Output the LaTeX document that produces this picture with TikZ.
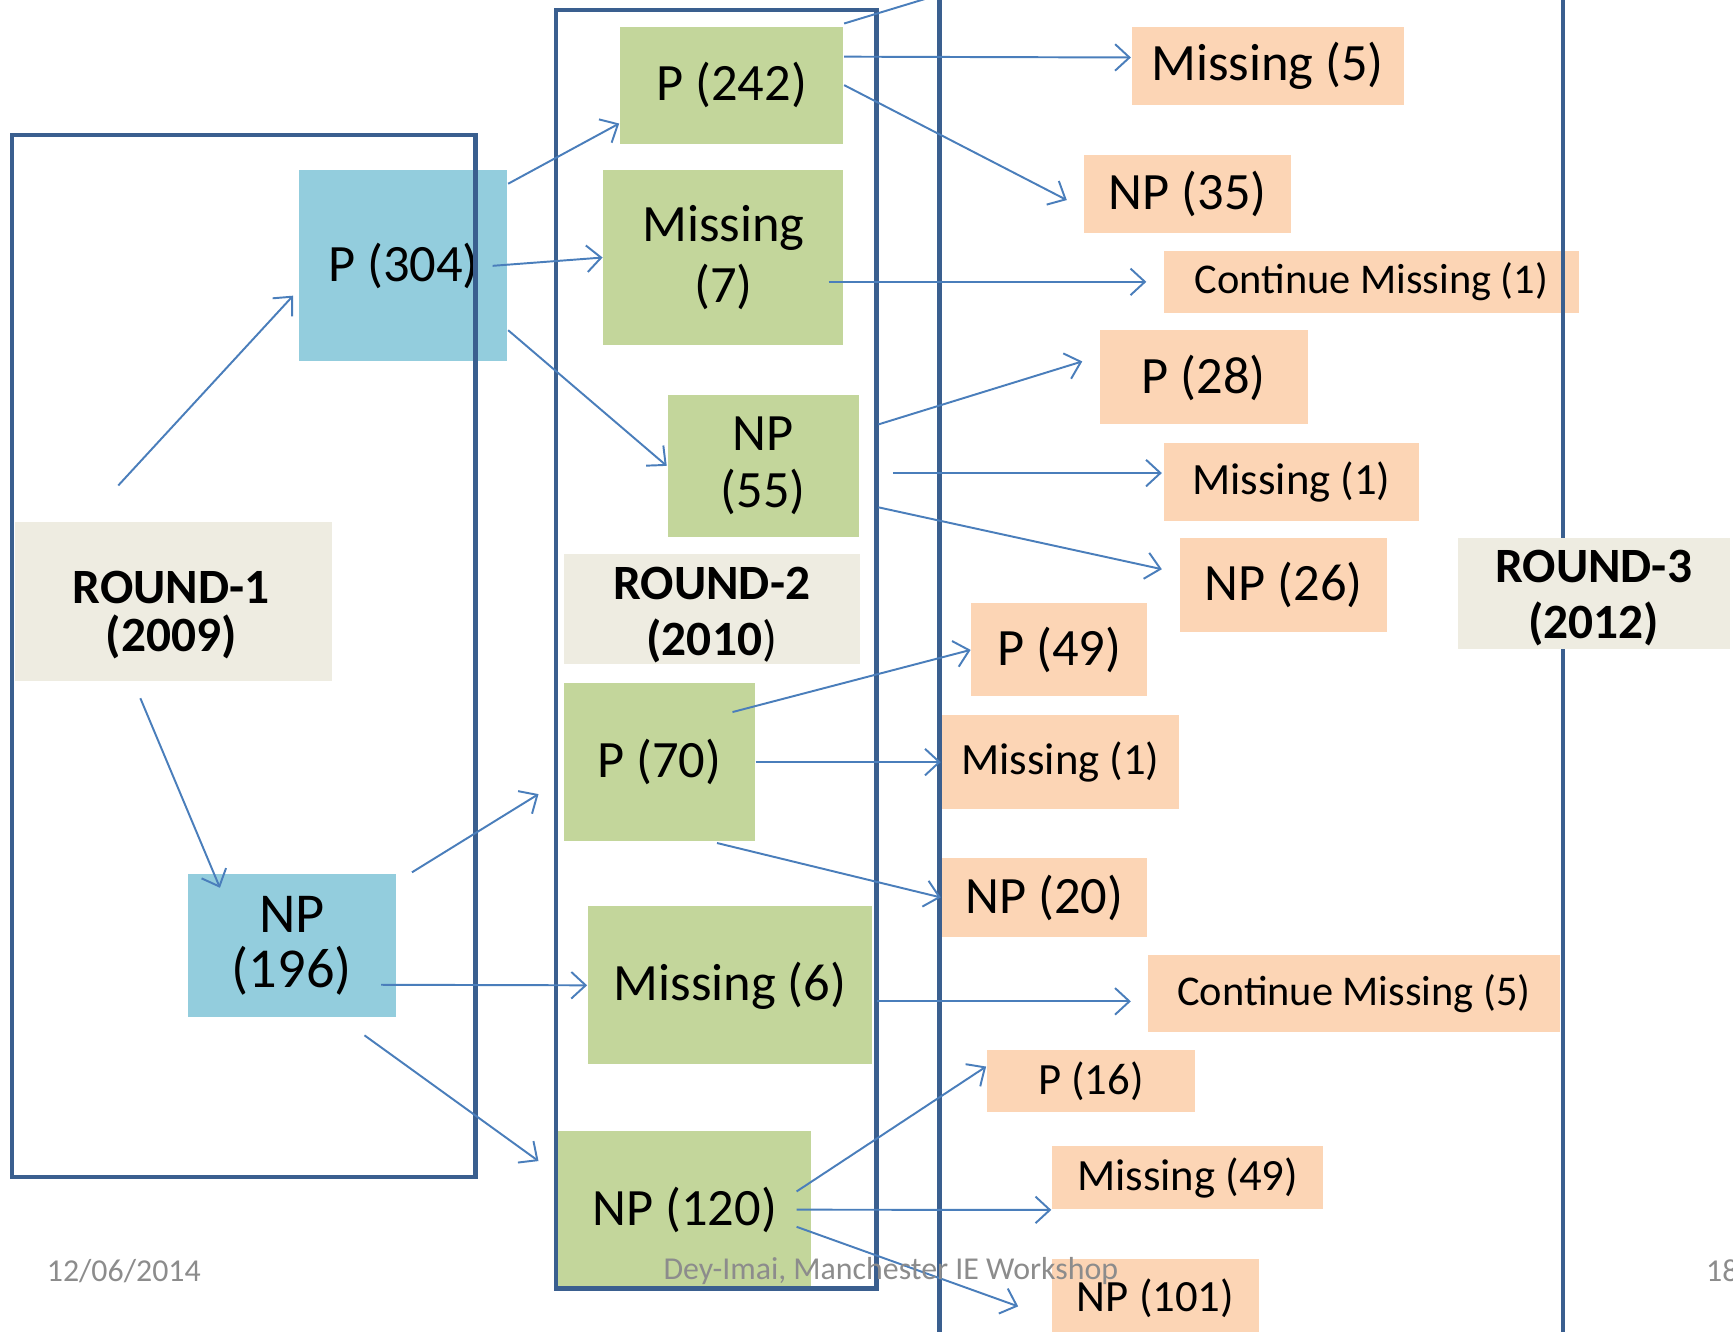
\documentclass[tikz,border=0pt]{standalone}
\usepackage{fontspec}
\setmainfont{Carlito}
\usetikzlibrary{arrows.meta,calc}
\definecolor{frameblue}{HTML}{3A5F8F}
\definecolor{flowblue}{HTML}{4A7EBB}
\definecolor{bluefill}{HTML}{93CDDD}
\definecolor{greenfill}{HTML}{C3D69B}
\definecolor{orangefill}{HTML}{FCD5B5}
\definecolor{beigefill}{HTML}{EEECE1}
\definecolor{footgray}{HTML}{8C8C8C}

\begin{document}
\begin{tikzpicture}[x=0.01cm, y=-0.01cm,
  base/.style={inner sep=0pt, align=center, text=black},
  big/.style={font=\fontsize{13.5}{15.5}\selectfont},
  mid/.style={font=\fontsize{11.5}{13}\selectfont},
  small/.style={font=\fontsize{10.9}{12}\selectfont},
  rone/.style={base, fill=bluefill},
  rtwo/.style={base, big, fill=greenfill},
  rthree/.style={base, fill=orangefill},
  roundlbl/.style={base, fill=beigefill},
  roundtxt/.style={inner sep=0pt, align=center, font=\bfseries\fontsize{12.7}{14.5}\selectfont},
  frame/.style={draw=frameblue, line width=1.2pt},
  flow/.style={draw=flowblue, line width=0.5pt, -{Straight Barb[length=1.3mm,width=2.4mm]}},
  foot/.style={inner sep=0pt, text=footgray, font=\fontsize{8.2}{9}\selectfont}]
\clip (0,0) rectangle (1568,1205);

% Round labels (round 3 comes after its frame line)
\node[roundlbl, minimum width=2.86cm, minimum height=1.44cm,
      label={[roundtxt, font=\bfseries\fontsize{12.7}{12.5}\selectfont, yshift=-3.6pt, xshift=-0.6pt]center:{ROUND-1\\(2009)}}] (r1) at (157,544) {};
\node[roundlbl, minimum width=2.68cm, minimum height=1.00cm,
      label={[roundtxt, yshift=-1.5pt]center:{ROUND-2\\(2010{\mdseries)}}}] (r2) at (644,551) {};

% Round 1 outcomes
\node[rone, big, minimum width=1.88cm, minimum height=1.73cm] (p304) at (365,240.5) {P (304)};
\node[rone, minimum width=1.88cm, minimum height=1.29cm,
      font=\fontsize{14.5}{14.2}\selectfont] (np196) at (264,855.5) {NP\\(196)};

% Round 2 outcomes
\node[rtwo, minimum width=2.02cm, minimum height=1.06cm] (p242) at (662,77) {P (242)};
\node[rtwo, minimum width=2.17cm, minimum height=1.58cm,
      font=\fontsize{13.5}{15.9}\selectfont] (miss7) at (654.5,233) {Missing\\(7)};
\node[rtwo, minimum width=1.73cm, minimum height=1.29cm,
      font=\fontsize{13.5}{14.8}\selectfont] (np55) at (690.5,421.5) {NP\\(55)};
\node[rtwo, minimum width=1.73cm, minimum height=1.43cm] (p70) at (596.5,689.5) {P (70)};
\node[rtwo, minimum width=2.57cm, minimum height=1.43cm] (miss6) at (660.5,891.5) {Missing (6)};
\node[rtwo, minimum width=2.29cm, minimum height=1.43cm] (np120) at (619.5,1094.5) {NP (120)};

% Round 3 outcomes
\node[rthree, big, minimum width=2.46cm, minimum height=0.71cm] (miss5) at (1147,59.5) {Missing (5)};
\node[rthree, big, minimum width=1.87cm, minimum height=0.71cm] (np35) at (1074.5,175.5) {NP (35)};
\node[rthree, small, minimum width=3.76cm, minimum height=0.56cm] (cont1) at (1241,255) {Continue Missing (1)};
\node[rthree, big, minimum width=1.88cm, minimum height=0.85cm] (p28) at (1089,341.5) {P (28)};
\node[rthree, mid, minimum width=2.31cm, minimum height=0.70cm] (miss1a) at (1168.5,436) {Missing (1)};
\node[rthree, big, minimum width=1.87cm, minimum height=0.85cm] (np26) at (1161.5,529.5) {NP (26)};
\node[rthree, big, minimum width=1.59cm, minimum height=0.84cm] (p49) at (958.5,588) {P (49)};
\node[rthree, mid, minimum width=2.15cm, minimum height=0.85cm] (miss1b) at (959.5,689.5) {Missing (1)};
\node[rthree, big, minimum width=1.86cm, minimum height=0.72cm] (np20) at (945,812) {NP (20)};
\node[rthree, small, minimum width=3.72cm, minimum height=0.70cm] (cont5) at (1225,899) {Continue Missing (5)};
\node[rthree, mid, minimum width=1.88cm, minimum height=0.56cm] (p16) at (987,978) {P (16)};
\node[rthree, mid, minimum width=2.45cm, minimum height=0.57cm] (miss49) at (1074.5,1065.5) {Missing (49)};
\node[rthree, mid, minimum width=1.87cm, minimum height=0.71cm] (np101) at (1045.5,1174.5) {NP (101)};

% Round frames
\draw[frame] (11,122) rectangle (430,1065);
\draw[frame] (503,9) rectangle (793,1166);
\draw[frame] (850,-20) -- (850,1225);
\draw[frame, line width=1pt] (1414,-20) -- (1414,1225);

\node[roundlbl, minimum width=2.46cm, minimum height=1.00cm,
      label={[roundtxt, yshift=-1.2pt]center:{ROUND-3\\(2012)}}] (r3) at (1442,537) {};

% Round 1 -> Round 2
\draw[flow] ($(r1.north)+(-50,-32)$) -- ($(p304.west)+(-5,27)$);
\draw[flow] ($(r1.south)+(-30,15)$) -- ($(np196.north)+(-65,13)$);
\draw[flow] ($(p304.north east)+(0,13)$) -- ($(p242.south west)+(0,-19)$);
\draw[flow] ($(p304.east)+(-14,0)$) -- (miss7.west);
\draw[flow] ($(p304.south east)+(0,-29)$) -- (np55.west);
\draw[flow] ($(np196.north east)+(14,-1)$) -- ($(p70.west)+(-22,29)$);
\draw[flow] ($(np196.east)+(-14,35.5)$) -- (miss6.west);
\draw[flow] ($(np196.south east)+(-29,16)$) -- ($(np120.west)+(-17,-44)$);

% Round 2 -> Round 3
\coordinate (offtop) at (880,-14);
\draw[draw=flowblue, line width=0.5pt] ($(p242.north east)+(0,-2)$) -- (offtop);
\draw[flow] ($(p242.north east)+(0,28)$) -- ($(miss5.west)+(0,-7.5)$);
\draw[flow] (p242.east) -- ($(np35.west)+(-15,5.5)$);
\draw[flow] ($(miss7.east)+(-14,22)$) -- ($(cont1.west)+(-15,0)$);
\draw[flow] ($(np55.east)+(17,-37.5)$) -- ($(p28.west)+(-15,-14.5)$);
\draw[flow] ($(np55.east)+(30,6.5)$) -- ($(miss1a.west)+(-1,-8)$);
\draw[flow] ($(np55.east)+(17,37.5)$) -- ($(np26.west)+(-16,-14.5)$);
\draw[flow] ($(p70.north east)+(-21,27)$) -- (p49.west);
\draw[flow] (p70.east) -- (miss1b.west);
\draw[flow] ($(p70.south east)+(-35,1)$) -- (np20.west);
\draw[flow] ($(miss6.east)+(4,14.5)$) -- ($(cont5.west)+(-15,7)$);
\draw[flow] ($(np120.east)+(-14,-16.5)$) -- ($(p16.west)+(0,-13)$);
\draw[flow] ($(np120.east)+(-14,0)$) -- (miss49.south west);
\draw[flow] ($(np120.east)+(-14,15.5)$) -- ($(np101.west)+(-30,7.5)$);

% Footer
\node[foot] (date) at (112,1150) {12/06/2014};
\node[foot] (event) at (806,1150) {Dey-Imai, Manchester IE Workshop};
\node[foot, anchor=west] (page) at (1543,1150) {18};
\end{tikzpicture}
\end{document}
